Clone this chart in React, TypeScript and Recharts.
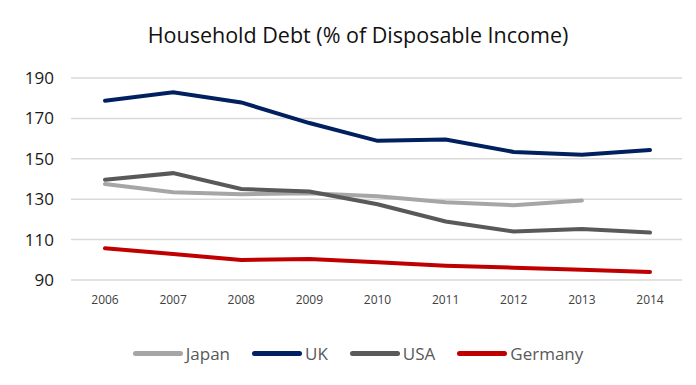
import { LineChart, Line, XAxis, YAxis, CartesianGrid, Legend } from 'recharts';

const years = ['2006', '2007', '2008', '2009', '2010', '2011', '2012', '2013', '2014'];
const japan = [137.5, 133.5, 132.5, 133, 131.5, 128.5, 127, 129.3, null];
const uk = [178.7, 182.9, 177.9, 167.7, 158.9, 159.5, 153.4, 152, 154.3];
const usa = [139.6, 142.9, 135.1, 133.8, 127.5, 119, 114, 115.3, 113.5];
const germany = [105.7, 102.9, 99.9, 100.4, 98.8, 97.1, 96.1, 95.1, 94];
const yTicks = [90, 110, 130, 150, 170, 190];

const SERIES = [
  { key: 'Japan', color: '#A6A6A6' },
  { key: 'UK', color: '#002060' },
  { key: 'USA', color: '#595959' },
  { key: 'Germany', color: '#C00000' },
];

const data = years.map((year, i) => ({
  year,
  Japan: japan[i],
  UK: uk[i],
  USA: usa[i],
  Germany: germany[i],
}));

const FONT = '"Open Sans", "Liberation Sans", sans-serif';

function LegendRow() {
  return (
    <div style={{ display: 'flex', justifyContent: 'center', gap: 22, fontFamily: FONT, fontSize: 17, color: '#595959' }}>
      {SERIES.map((s) => (
        <div key={s.key} style={{ display: 'flex', alignItems: 'center' }}>
          <span style={{ display: 'inline-block', width: 50, height: 5, borderRadius: 3, background: s.color, marginRight: 3 }} />
          <span>{s.key}</span>
        </div>
      ))}
    </div>
  );
}

export default function App() {
  return (
    <div style={{ position: 'absolute', left: 0, top: 0, width: 696, height: 385, background: '#fff' }}>
      <div style={{ position: 'absolute', top: 20, left: 0, width: 716, textAlign: 'center', fontFamily: FONT, fontSize: 21.5, color: '#111' }}>
        Household Debt (% of Disposable Income)
      </div>
      <LineChart width={696} height={385} data={data} margin={{ top: 78, right: 14, left: 0, bottom: 75 }}>
        <CartesianGrid horizontal vertical={false} stroke="#D9D9D9" strokeWidth={1.5} />
        <XAxis
          dataKey="year"
          axisLine={false}
          tickLine={false}
          tickSize={6}
          tickMargin={9}
          height={30}
          padding={{ left: 34, right: 32 }}
          tick={{ fontSize: 12, fill: '#404040', fontFamily: FONT }}
        />
        <YAxis
          domain={[90, 190]}
          ticks={yTicks}
          axisLine={false}
          tickLine={false}
          tickSize={0}
          tickMargin={17}
          width={71}
          tick={{ fontSize: 17, fill: '#1a1a1a', fontFamily: FONT }}
        />
        <Legend
          layout="vertical"
          align="center"
          verticalAlign="middle"
          wrapperStyle={{ top: 342, left: 0, width: 716 }}
          content={() => <LegendRow />}
        />
        {SERIES.map((s) => (
          <Line
            key={s.key}
            type="linear"
            dataKey={s.key}
            stroke={s.color}
            strokeWidth={4}
            strokeLinecap="round"
            dot={false}
            activeDot={false}
            isAnimationActive={false}
          />
        ))}
      </LineChart>
    </div>
  );
}
